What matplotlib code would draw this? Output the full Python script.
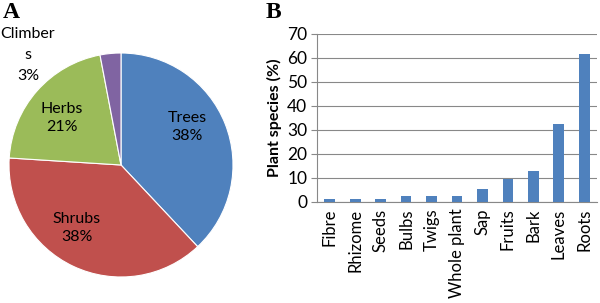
import matplotlib
matplotlib.use("Agg")
import matplotlib.pyplot as plt

# Pie data
pie_labels = ["Trees", "Shrubs", "Herbs", "Climbers"]
pie_values = [38, 38, 21, 3]
pie_colors = ["#4F81BD", "#C0504D", "#9BBB59", "#8064A2"]

# Bar data
parts = ["Fibre", "Rhizome", "Seeds", "Bulbs", "Twigs", "Whole plant",
         "Sap", "Fruits", "Bark", "Leaves", "Roots"]
percent = [0.9, 0.9, 0.9, 2.2, 2.2, 2.2, 5.1, 9.4, 12.6, 32.2, 61.5]
y_ticks = [0, 10, 20, 30, 40, 50, 60, 70]

W, H = 600, 303
fig = plt.figure(figsize=(6, 3.03), dpi=100)
plt.rcParams['font.family'] = ['Lato', 'DejaVu Sans']

# Pie axes: center (121,165) radius 112 px
cx, cy, r = 121, 165, 112
axp = fig.add_axes([(cx - r) / W, 1 - (cy + r) / H, 2 * r / W, 2 * r / H])
wedges, _ = axp.pie(pie_values, colors=pie_colors, startangle=90, counterclock=False,
                    wedgeprops=dict(linewidth=0.8, edgecolor="white"))
axp.set_aspect("equal")
axp.set_xlim(-1, 1)
axp.set_ylim(-1, 1)

def px(x, y):
    return x / W, 1 - y / H

fs = 11.5
ls = 1.45
fig.text(*px(187, 127), "Trees\n38%", ha="center", va="center", fontsize=fs, linespacing=ls)
fig.text(*px(77, 228), "Shrubs\n38%", ha="center", va="center", fontsize=fs, linespacing=ls)
fig.text(*px(62, 118), "Herbs\n21%", ha="center", va="center", fontsize=fs, linespacing=ls)
fig.text(*px(28, 55), "Climber\ns\n3%", ha="center", va="center", fontsize=fs, linespacing=1.6)

fig.text(*px(3, 13), "A", ha="left", va="center", fontsize=17, fontweight="bold",
         family=["Liberation Serif", "DejaVu Serif"])
fig.text(*px(266, 12), "B", ha="left", va="center", fontsize=17, fontweight="bold",
         family=["Liberation Serif", "DejaVu Serif"])

# Bar axes: left 317, right 597, top 33.5 (70), bottom 201.5 (0)
L, R, T, B = 317, 597, 33.5, 201.5
axb = fig.add_axes([L / W, 1 - B / H, (R - L) / W, (B - T) / H])
x = list(range(len(parts)))
axb.bar(x, percent, width=0.42, color="#4F81BD", zorder=3)
axb.set_xlim(-0.5, len(parts) - 0.5)
axb.set_ylim(0, 70)
axb.set_yticks(y_ticks)
axb.set_yticklabels([str(v) for v in y_ticks], fontsize=12.5)
axb.set_xticks(x)
axb.set_xticklabels(parts, rotation=90, fontsize=12)
axb.tick_params(axis="x", length=0, pad=5)
axb.tick_params(axis="y", length=4, color="#888888", pad=3)
axb.grid(axis="y", color="#888888", linewidth=0.8, zorder=0)
for s in ["top", "right"]:
    axb.spines[s].set_visible(False)
axb.spines["left"].set_color("#888888")
axb.spines["bottom"].set_color("#888888")
axb.set_ylabel("Plant species (%)", fontsize=11.5, fontweight="bold", labelpad=4)

fig.savefig("out.png", dpi=100)
